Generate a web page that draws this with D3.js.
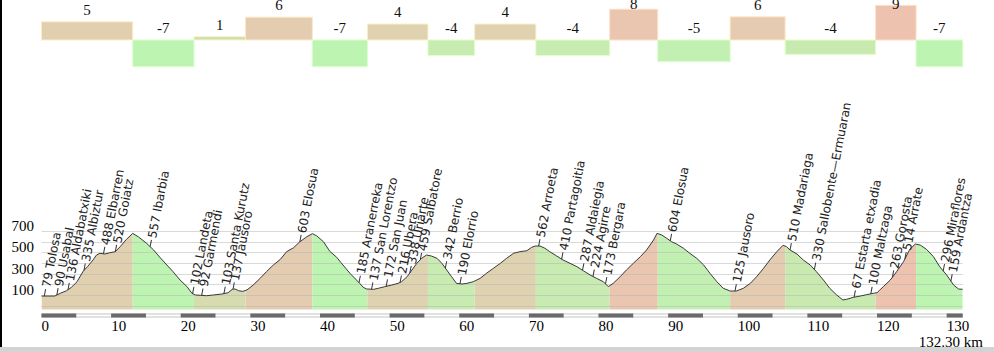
<!DOCTYPE html>
<html>
<head>
<meta charset="utf-8">
<script src="https://cdn.jsdelivr.net/npm/d3@7"></script>
<style>
  body { margin: 0; background: #fff; }
  svg { display: block; }
</style>
</head>
<body>
<div id="profile"></div>
<script>
// profile: distance (km) and altitude (m)
var profileKm = [0, 1.9, 2.7, 3.6, 4.3, 5.1, 6.0, 6.6, 7.4, 7.9, 8.4, 9.1, 9.8, 10.6, 11.3, 12.2, 13.1, 13.9, 15.1, 16.1,
  17.0, 18.0, 18.9, 19.9, 20.9, 21.6, 22.1, 22.8, 23.7, 24.7, 25.9, 26.8, 27.4, 27.8, 28.3, 28.9, 29.5, 30.4, 31.4, 32.3,
  33.3, 34.3, 35.2, 36.2, 37.1, 38.1, 38.9, 39.5, 40.5, 41.4, 42.4, 43.0, 44.3, 45.7, 46.2, 46.7, 47.7, 48.4, 49.3, 50.3,
  51.2, 51.7, 52.5, 53.2, 53.9, 54.6, 55.3, 56.0, 56.8, 57.5, 58.2, 58.9, 59.6, 60.4, 61.1, 62.0, 63.0, 63.9, 64.9, 65.9,
  66.8, 67.8, 68.7, 69.7, 70.4, 70.9, 71.6, 72.3, 73.0, 74.0, 74.9, 75.9, 76.9, 77.8, 78.8, 79.7, 80.7, 81.4, 82.1, 83.1,
  84.0, 85.0, 86.0, 86.9, 87.9, 88.4, 89.1, 89.8, 90.5, 91.2, 92.2, 93.1, 94.1, 95.1, 96.0, 97.0, 97.9, 98.9, 99.8, 100.8,
  101.8, 102.7, 103.7, 104.6, 105.6, 106.5, 107.0, 107.5, 108.5, 109.4, 110.4, 111.3, 112.3, 113.2, 114.2, 115.1, 115.6, 116.6, 117.6, 118.5,
  119.5, 120.0, 120.4, 120.9, 121.9, 122.8, 123.8, 124.7, 125.5, 126.2, 127.1, 128.1, 129.0, 130.0, 131.0, 131.7, 132.3];
var profileAlt = [40, 40, 66, 90, 122, 174, 274, 315, 378, 425, 441, 434, 446, 456, 503, 572, 628, 596, 534, 472,
  403, 331, 268, 190, 128, 66, 50, 47, 43, 50, 59, 71, 103, 106, 90, 84, 97, 143, 206, 268,
  331, 384, 456, 493, 549, 596, 625, 606, 549, 460, 403, 354, 253, 159, 122, 106, 103, 113, 128, 143,
  159, 174, 221, 284, 347, 394, 425, 415, 394, 347, 284, 221, 159, 153, 159, 174, 206, 253, 300, 347,
  394, 441, 456, 465, 497, 509, 509, 488, 456, 415, 378, 347, 315, 278, 237, 206, 174, 128, 159, 221,
  284, 347, 409, 472, 565, 628, 612, 581, 549, 528, 488, 441, 394, 331, 253, 174, 113, 87, 87, 113,
  159, 221, 300, 378, 456, 516, 503, 472, 434, 378, 331, 268, 190, 113, 50, 3, 9, 28, 40, 53,
  66, 71, 97, 128, 190, 268, 362, 478, 528, 518, 478, 409, 315, 237, 143, 106, 103];

// climb / descent sections with their mean gradient (%)
var sectionEnds = [0, 13.1, 21.9, 29.3, 38.9, 46.8, 55.5, 62.2, 71.0, 81.6, 88.5, 98.9, 106.8, 119.8, 125.6, 132.3];
var sectionGrades = [4.8, -7.0, 0.9, 6.0, -7.0, 4.2, -4.1, 4.2, -4.1, 8.1, -5.7, 6.1, -3.8, 9.1, -7.0];
var sectionLabels = ["5", "-7", "1", "6", "-7", "4", "-4", "4", "-4", "8", "-5", "6", "-4", "9", "-7"];

// named points along the route
var placeKm = [0.4, 2.2, 3.8, 6.1, 8.9, 10.6, 15.6, 21.7, 23.0, 26.2, 27.5, 37.1,
  45.6, 47.4, 49.5, 51.5, 52.9, 54.4, 58.0, 60.1, 71.4, 74.7, 77.7, 79.2, 81.0,
  90.3, 99.6, 107.5, 111.0, 116.7, 119.1, 122.2, 124.0, 129.5, 130.6];
var placeNames = ["79 Tolosa", "90 Usabal", "136 Aldabatxiki", "335 Albiztur", "488 Elbarren", "520 Goiatz",
  "557 Ibarbia", "102 Landeta", "92 Garmendi", "103 Santa Kurutz", "137 Jausoro", "603 Elosua",
  "185 Aranerreka", "137 San Lorentzo", "172 San Juan", "216 Ubera", "338 Uriarte", "459 Salbatore",
  "342 Berrio", "190 Elorrio", "562 Arroeta", "410 Partagoitia", "287 Aldaiegia", "224 Agirre", "173 Bergara",
  "604 Elosua", "125 Jausoro", "510 Madariaga", "330 Sallobente\u2014Ermuaran", "67 Estarta etxadia",
  "100 Maltzaga", "263 Gorosta", "514 Arrate", "296 Miraflores", "159 Ardantza"];

var altTicks = [100, 300, 500, 700];
var gridAlts = [-50, 50, 150, 250, 350, 450, 550, 650];
var kmTicks = [0, 10, 20, 30, 40, 50, 60, 70, 80, 90, 100, 110, 120, 130];
var totalKm = 132.3;
var totalLabel = "132.30 km";

var width = 994, height = 352;
var plotBottom = 309.5;

var svg = d3.select("#profile")
  .append("svg")
  .attr("width", width)
  .attr("height", height);

var x = d3.scaleLinear().domain([0, totalKm]).range([41.5, 962.7]);
var y = d3.scaleLinear().domain([0, 650]).range([300.3, 231]);
var gy = d3.scaleLinear().domain([0, 10]).range([40, 2]);
var altAt = d3.scaleLinear().domain(profileKm).range(profileAlt);
var gradeColor = d3.scaleLinear().domain([-7, 1, 9]).range(["#bef4b2", "#d6dcb0", "#edc3b0"]);

var sections = sectionGrades.map(function(gr, i) {
  return { k0: sectionEnds[i], k1: sectionEnds[i + 1], grade: gr, label: sectionLabels[i] };
});

// frame bits of the page
svg.append("rect").attr("x", 0).attr("y", 0).attr("width", 2).attr("height", 347).attr("fill", "#000");
svg.append("rect").attr("x", 0).attr("y", 347).attr("width", width).attr("height", 5).attr("fill", "#d3d3d3");

// gradient bars
svg.selectAll(".bar")
  .data(sections)
  .enter()
  .append("rect")
  .attr("x", function(d) { return x(d.k0); })
  .attr("width", function(d) { return x(d.k1) - x(d.k0); })
  .attr("y", function(d) { return Math.min(gy(0), gy(d.grade)); })
  .attr("height", function(d) { return Math.abs(gy(d.grade) - gy(0)); })
  .attr("fill", function(d) { return gradeColor(d.grade); })
  .attr("stroke", function(d) { return d3.color(gradeColor(d.grade)).brighter(0.35); })
  .attr("stroke-width", 1);

// labels sit above the bar top (or the zero line), but never higher than the page allows
svg.selectAll(".barlabel")
  .data(sections)
  .enter()
  .append("text")
  .attr("x", function(d) { return (x(d.k0) + x(d.k1)) / 2; })
  .attr("y", function(d) { return Math.max(Math.min(gy(0), gy(d.grade)) - 6.8, 9); })
  .attr("text-anchor", "middle")
  .attr("font-family", "Liberation Serif")
  .attr("font-size", 15)
  .attr("fill", "#111")
  .text(function(d) { return d.label; });

// profile, coloured by section
var pts = profileKm.map(function(k, i) { return [k, profileAlt[i]]; });
var area = d3.area()
  .x(function(d) { return x(d[0]); })
  .y0(plotBottom)
  .y1(function(d) { return y(d[1]); });

var defs = svg.append("defs");
sections.forEach(function(s, i) {
  defs.append("clipPath").attr("id", "sec" + i)
    .append("rect")
    .attr("x", x(s.k0))
    .attr("y", 0)
    .attr("width", x(s.k1) - x(s.k0))
    .attr("height", height);
  svg.append("path")
    .datum(pts)
    .attr("d", area)
    .attr("fill", gradeColor(s.grade))
    .attr("clip-path", "url(#sec" + i + ")");
});

// grid
svg.selectAll(".grid")
  .data(gridAlts)
  .enter()
  .append("line")
  .attr("x1", x(0))
  .attr("x2", x(totalKm))
  .attr("y1", function(d) { return Math.round(y(d)) + 0.5; })
  .attr("y2", function(d) { return Math.round(y(d)) + 0.5; })
  .attr("stroke", "#b4b4b4")
  .attr("stroke-opacity", 0.5);

svg.append("path")
  .datum(pts)
  .attr("d", d3.line().x(function(d) { return x(d[0]); }).y(function(d) { return y(d[1]); }))
  .attr("fill", "none")
  .attr("stroke", "#3a3a3a")
  .attr("stroke-width", 1);

svg.selectAll(".alt")
  .data(altTicks)
  .enter()
  .append("text")
  .attr("x", 34)
  .attr("y", function(d) { return y(d) + 5.5; })
  .attr("text-anchor", "end")
  .attr("font-family", "Liberation Serif")
  .attr("font-size", 15)
  .attr("fill", "#000")
  .text(function(d) { return d; });

// place names
var places = svg.selectAll(".place")
  .data(placeKm)
  .enter()
  .append("g")
  .attr("transform", function(d) { return "translate(" + x(d) + "," + y(altAt(d)) + ") rotate(-79)"; });
places.append("line")
  .attr("x1", 0).attr("x2", 7)
  .attr("stroke", "#333")
  .attr("stroke-width", 1);
places.append("text")
  .attr("x", 9)
  .attr("dy", "0.35em")
  .attr("font-family", "DejaVu Sans")
  .attr("font-size", 12)
  .attr("fill", "#222")
  .text(function(d, i) { return placeNames[i]; });

// distance bar
svg.append("rect")
  .attr("x", x(0)).attr("width", x(totalKm) - x(0))
  .attr("y", 313.5).attr("height", 4)
  .attr("fill", "#c4c4c4");
svg.selectAll(".scalebar")
  .data(d3.range(0, totalKm, 5))
  .enter()
  .append("rect")
  .attr("x", function(d) { return x(d); })
  .attr("width", function(d) { return x(Math.min(d + 5, totalKm)) - x(d); })
  .attr("y", function(d, i) { return i % 2 ? 314.5 : 313.5; })
  .attr("height", function(d, i) { return i % 2 ? 2 : 4; })
  .attr("fill", function(d, i) { return i % 2 ? "#fff" : "#6a6a6a"; });

svg.selectAll(".km")
  .data(kmTicks)
  .enter()
  .append("text")
  .attr("x", function(d) { return x(d); })
  .attr("y", 331)
  .attr("font-family", "Liberation Serif")
  .attr("font-size", 15)
  .attr("fill", "#000")
  .text(function(d) { return d; });

svg.append("text")
  .attr("x", 983)
  .attr("y", 346.5)
  .attr("text-anchor", "end")
  .attr("font-family", "Liberation Serif")
  .attr("font-size", 15)
  .attr("fill", "#000")
  .text(totalLabel);
</script>
</body>
</html>
